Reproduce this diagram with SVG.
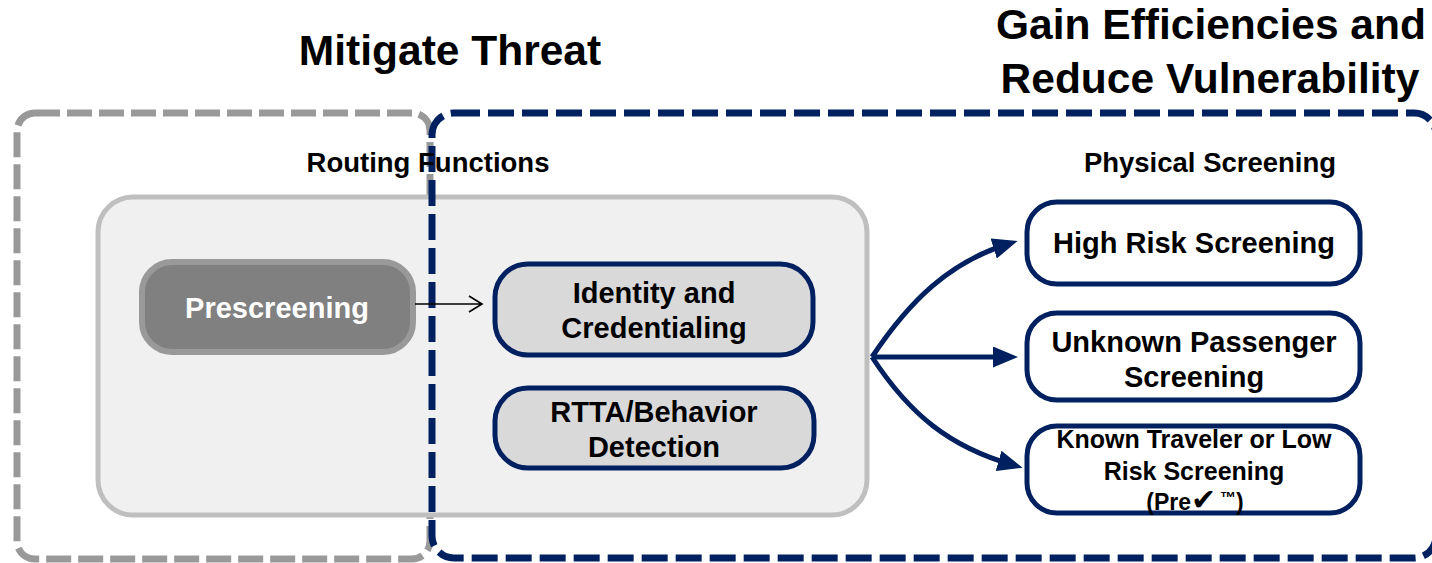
<svg xmlns="http://www.w3.org/2000/svg" width="1432" height="563" viewBox="0 0 1432 563">
  <style>
    text { font-family: "Liberation Sans", Arial, sans-serif; font-weight: bold; fill: #000; text-anchor: middle; }
    .title { font-size: 42.5px; }
    .section { font-size: 27.5px; }
    .label { font-size: 29px; }
    .small { font-size: 25px; }
    .zone-gray { fill: none; stroke: #999999; stroke-width: 7; stroke-dasharray: 25 7; }
    .zone-blue { fill: none; stroke: #002060; stroke-width: 7; stroke-dasharray: 26 8; }
    .routing { fill: #f0f0f0; stroke: #bfbfbf; stroke-width: 5; }
    .pre { fill: #808080; stroke: #999999; stroke-width: 6; }
    .func { fill: #d9d9d9; stroke: #002060; stroke-width: 5; }
    .screen { fill: #ffffff; stroke: #002060; stroke-width: 5; }
    .flow { fill: none; stroke: #002060; stroke-width: 5; marker-end: url(#head); }
    .thin { fill: none; stroke: #000; stroke-width: 1.6; }
  </style>
  <defs>
    <marker id="head" markerUnits="userSpaceOnUse" markerWidth="25" markerHeight="21" refX="15" refY="10.5" orient="auto">
      <path d="M0,0 L25,10.5 L0,21 Z" fill="#002060"/>
    </marker>
  </defs>

  <!-- headings -->
  <text class="title" x="450" y="65">Mitigate Threat</text>
  <text class="title" x="1211" y="39">Gain Efficiencies and</text>
  <text class="title" x="1210" y="93">Reduce Vulnerability</text>

  <!-- zones -->
  <rect id="zone-mitigate" class="zone-gray" x="17" y="113" width="413" height="446" rx="18"/>
  <g id="routing-functions">
    <rect class="routing" x="98" y="197" width="769" height="318" rx="35"/>
  </g>
  <rect id="zone-efficiency" class="zone-blue" x="432" y="113" width="1004" height="445" rx="22"/>

  <text class="section" x="428" y="172">Routing Functions</text>
  <text class="section" x="1210" y="172">Physical Screening</text>

  <!-- routing function nodes -->
  <g id="prescreening">
    <rect class="pre" x="142" y="262" width="271" height="90" rx="30"/>
    <text class="label" x="277" y="318" style="fill:#ffffff">Prescreening</text>
  </g>
  <g id="identity">
    <rect class="func" x="495" y="264" width="318" height="91" rx="33"/>
    <text class="label" x="654" y="303">Identity and</text>
    <text class="label" x="654" y="338">Credentialing</text>
  </g>
  <g id="rtta">
    <rect class="func" x="495" y="388" width="319" height="80" rx="33"/>
    <text class="label" x="654" y="422">RTTA/Behavior</text>
    <text class="label" x="654" y="457">Detection</text>
  </g>

  <!-- physical screening nodes -->
  <g id="high-risk">
    <rect class="screen" x="1027" y="202" width="333" height="82" rx="30"/>
    <text class="label" x="1194" y="253">High Risk Screening</text>
  </g>
  <g id="unknown">
    <rect class="screen" x="1027" y="313" width="333" height="87" rx="30"/>
    <text class="label" x="1194" y="352">Unknown Passenger</text>
    <text class="label" x="1194" y="387">Screening</text>
  </g>
  <g id="known">
    <rect class="screen" x="1027" y="426" width="333" height="87" rx="30"/>
    <text class="small" x="1194" y="448">Known Traveler or Low</text>
    <text class="small" x="1194" y="480">Risk Screening</text>
    <text x="1195" y="510" style="font-size:23px">(Pre<tspan style="font-family:'DejaVu Sans',sans-serif;font-size:30px">✔</tspan><tspan dx="4" dy="-7" style="font-size:16px">™</tspan><tspan dy="7">)</tspan></text>
  </g>

  <!-- connectors -->
  <g id="connectors">
    <path class="thin" d="M415,304 H482 M469,296 L482,304 L469,312"/>
    <path class="flow" d="M872,357 C910,300 950,262 1008,244"/>
    <path class="flow" d="M872,357 L1008,357"/>
    <path class="flow" d="M872,357 C910,415 950,447 1013,465"/>
  </g>
</svg>
